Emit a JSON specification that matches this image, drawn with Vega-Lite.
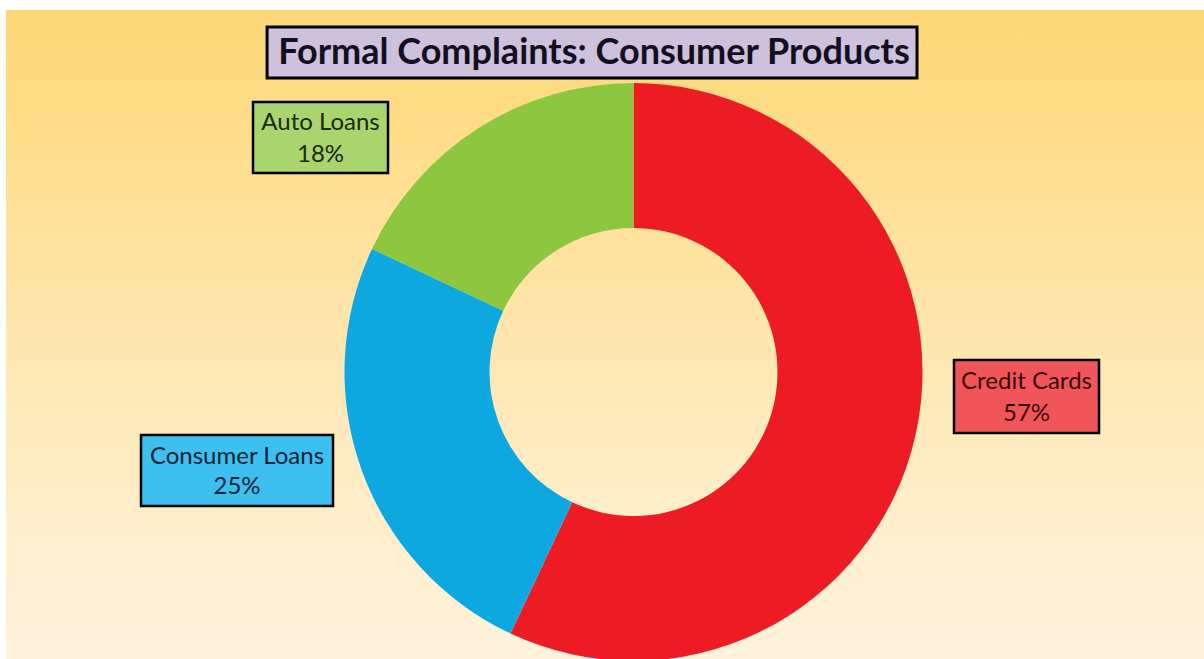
{
  "$schema": "https://vega.github.io/schema/vega-lite/v6.json",
  "width": 1198,
  "height": 649,
  "autosize": {"type": "none"},
  "padding": {"left": 6, "top": 10, "right": 0, "bottom": 0},
  "background": "white",
  "view": {
    "stroke": null,
    "fill": {
      "gradient": "linear", "x1": 0, "y1": 0, "x2": 0, "y2": 1,
      "stops": [
        {"offset": 0, "color": "#FDD877"},
        {"offset": 0.15, "color": "#FEDC85"},
        {"offset": 0.4, "color": "#FEE3A3"},
        {"offset": 0.75, "color": "#FEEDC8"},
        {"offset": 1, "color": "#FFF3DD"}
      ]
    }
  },
  "config": {"axis": {"disable": true}, "legend": {"disable": true}},
  "data": {
    "values": [
      {"category": "Credit Cards", "share": 0.57},
      {"category": "Consumer Loans", "share": 0.25},
      {"category": "Auto Loans", "share": 0.18}
    ]
  },
  "layer": [
    {
      "mark": {"type": "arc", "radius": 289, "radius2": 144},
      "encoding": {
        "x": {"datum": 0, "type": "quantitative", "axis": null, "scale": {"domain": [-2.1713, 1.974], "nice": false, "zero": false}},
        "y": {"datum": 0, "type": "quantitative", "axis": null, "scale": {"domain": [-0.9931, 1.2526], "nice": false, "zero": false}},
        "theta": {"field": "share", "type": "quantitative", "stack": true},
        "order": {"field": "share", "sort": "descending"},
        "color": {
          "field": "category", "type": "nominal", "legend": null,
          "scale": {"domain": ["Credit Cards", "Consumer Loans", "Auto Loans"], "range": ["#ED1C24", "#0EA8E0", "#8DC63F"]}
        }
      }
    },
    {
      "transform": [{"filter": "datum.category === 'Credit Cards'"}],
      "layer": [
        {"mark": {"type": "rect", "fill": "#CDC1DC", "stroke": "#000000", "strokeWidth": 3},
         "encoding": {"x": {"datum": -1.268}, "x2": {"datum": 0.981}, "y": {"datum": 1.194}, "y2": {"datum": 1.017}}},
        {"mark": {"type": "text", "font": "Lato", "fontWeight": "bold", "fontSize": 36, "color": "#140F1E", "align": "center", "baseline": "middle"},
         "encoding": {"x": {"datum": -0.1367}, "y": {"datum": 1.1055}, "text": {"value": "Formal Complaints: Consumer Products"}}}
      ]
    },
    {
      "transform": [{"filter": "datum.category === 'Auto Loans'"}],
      "layer": [
        {"mark": {"type": "rect", "fill": "#A9D46E", "stroke": "#000000", "strokeWidth": 2.5},
         "encoding": {"x": {"datum": -1.3166}, "x2": {"datum": -0.8495}, "y": {"datum": 0.9343}, "y2": {"datum": 0.6886}}},
        {"mark": {"type": "text", "font": "Lato", "fontSize": 24, "color": "#1C2A10", "align": "center", "baseline": "middle"},
         "encoding": {"x": {"datum": -1.083}, "y": {"datum": 0.8616}, "text": {"field": "category"}}},
        {"mark": {"type": "text", "font": "Lato", "fontSize": 24, "color": "#1C2A10", "align": "center", "baseline": "middle"},
         "encoding": {"x": {"datum": -1.083}, "y": {"datum": 0.7509}, "text": {"field": "share", "type": "quantitative", "format": ".0%"}}}
      ]
    },
    {
      "transform": [{"filter": "datum.category === 'Consumer Loans'"}],
      "layer": [
        {"mark": {"type": "rect", "fill": "#3DC0F0", "stroke": "#000000", "strokeWidth": 2.5},
         "encoding": {"x": {"datum": -1.7042}, "x2": {"datum": -1.0398}, "y": {"datum": -0.218}, "y2": {"datum": -0.4637}}},
        {"mark": {"type": "text", "font": "Lato", "fontSize": 24, "color": "#0A2233", "align": "center", "baseline": "middle"},
         "encoding": {"x": {"datum": -1.372}, "y": {"datum": -0.2941}, "text": {"field": "category"}}},
        {"mark": {"type": "text", "font": "Lato", "fontSize": 24, "color": "#0A2233", "align": "center", "baseline": "middle"},
         "encoding": {"x": {"datum": -1.372}, "y": {"datum": -0.3979}, "text": {"field": "share", "type": "quantitative", "format": ".0%"}}}
      ]
    },
    {
      "transform": [{"filter": "datum.category === 'Credit Cards'"}],
      "layer": [
        {"mark": {"type": "rect", "fill": "#F0555A", "stroke": "#000000", "strokeWidth": 2.5},
         "encoding": {"x": {"datum": 1.109}, "x2": {"datum": 1.6107}, "y": {"datum": 0.0415}, "y2": {"datum": -0.2111}}},
        {"mark": {"type": "text", "font": "Lato", "fontSize": 24, "color": "#3A0808", "align": "center", "baseline": "middle"},
         "encoding": {"x": {"datum": 1.3599}, "y": {"datum": -0.0346}, "text": {"field": "category"}}},
        {"mark": {"type": "text", "font": "Lato", "fontSize": 24, "color": "#3A0808", "align": "center", "baseline": "middle"},
         "encoding": {"x": {"datum": 1.3599}, "y": {"datum": -0.1453}, "text": {"field": "share", "type": "quantitative", "format": ".0%"}}}
      ]
    }
  ]
}
